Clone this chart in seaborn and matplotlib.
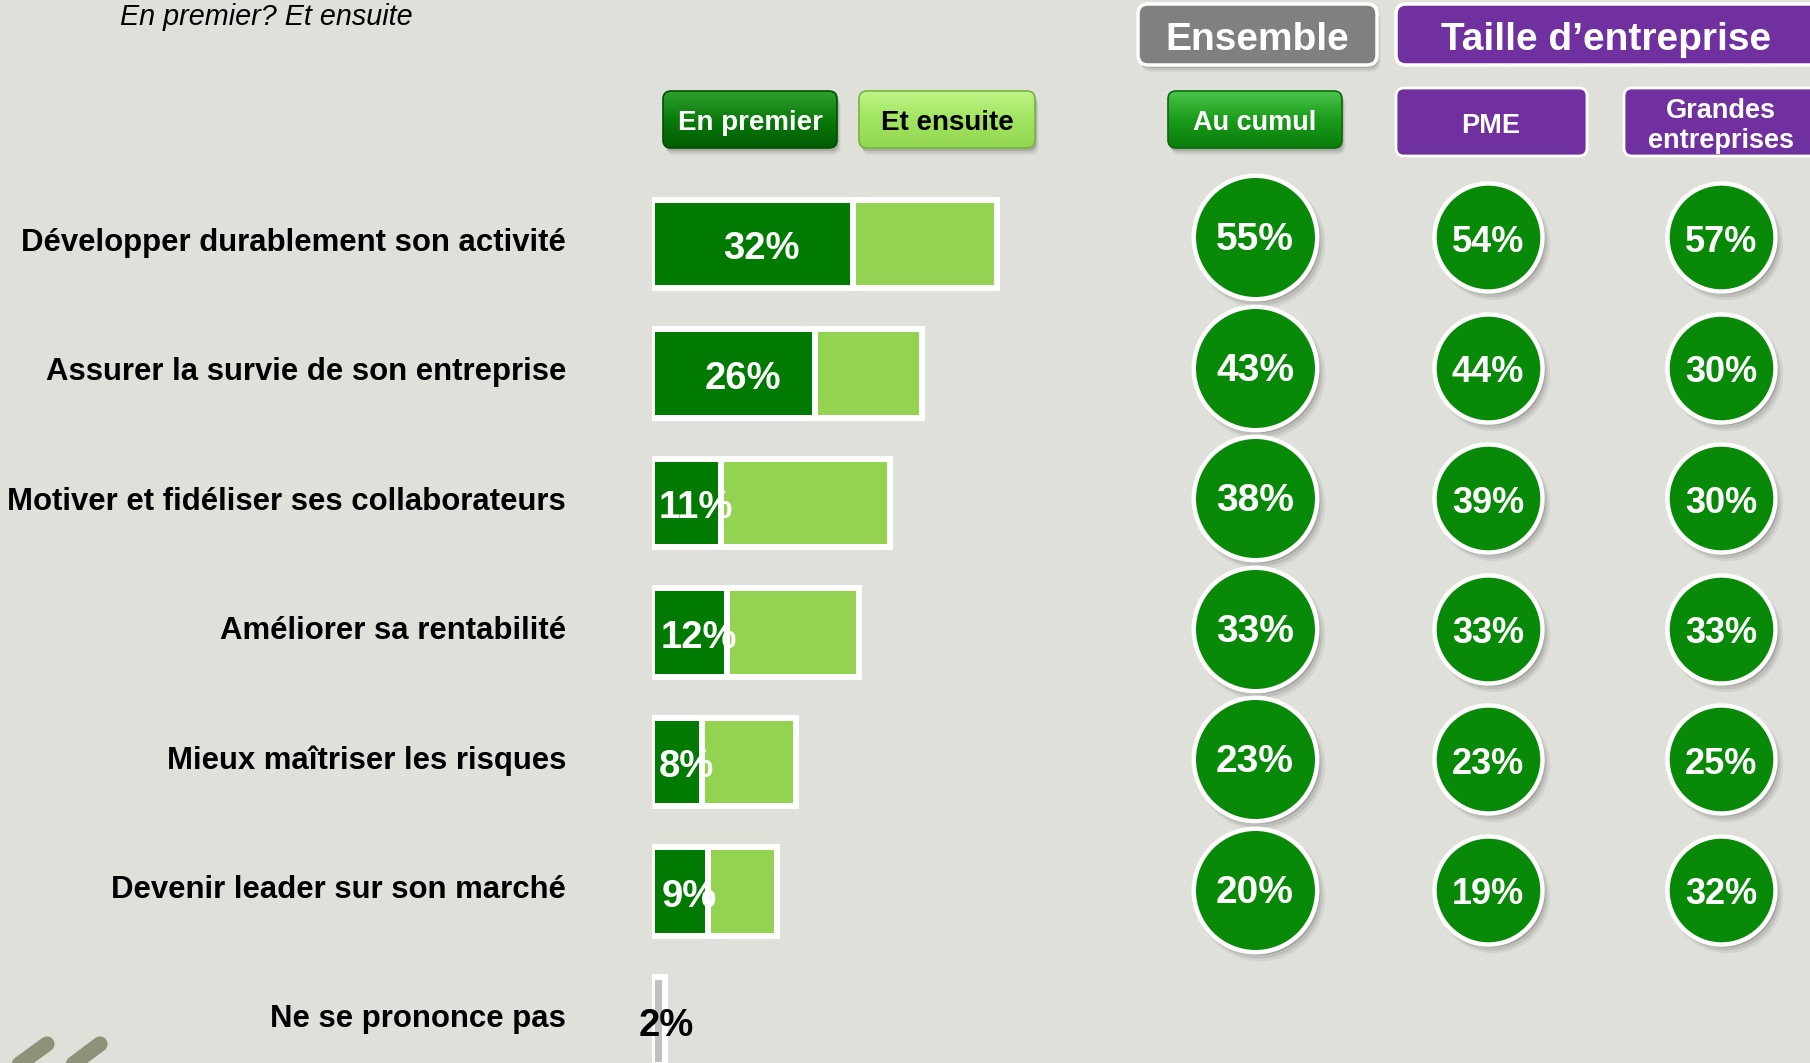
import numpy as np
import pandas as pd
import matplotlib
matplotlib.use("Agg")
import matplotlib.pyplot as plt
import matplotlib.transforms as mtransforms
from matplotlib.patches import FancyBboxPatch
from matplotlib.colors import LinearSegmentedColormap
import seaborn as sns

# ---------------- data ----------------
categories = [
    "Développer durablement son activité",
    "Assurer la survie de son entreprise",
    "Motiver et fidéliser ses collaborateurs",
    "Améliorer sa rentabilité",
    "Mieux maîtriser les risques",
    "Devenir leader sur son marché",
    "Ne se prononce pas",
]
en_premier = [32, 26, 11, 12, 8, 9]
au_cumul = [55, 43, 38, 33, 23, 20, 2]
pme = [54, 44, 39, 33, 23, 19]
grandes_entreprises = [57, 30, 30, 33, 25, 32]
circle_columns = ["Au cumul", "PME", "Grandes entreprises"]

title_text = "En premier? Et ensuite"
legend_labels = ["En premier", "Et ensuite"]
header_labels = ["Ensemble", "Taille d\u2019entreprise"]

# ---------------- style ----------------
BG = "#dfe0da"
DARK = "#007a00"
LIGHT = "#94d351"
GREY_BAR = "#c0c0c0"
CIRCLE = "#088a08"
PURPLE = "#7030a0"

sns.set_theme(style="white")
plt.rcParams["font.family"] = ["Liberation Sans", "DejaVu Sans"]

W, H = 1810, 1063
fig = plt.figure(figsize=(W / 100, H / 100), dpi=100, facecolor=BG)

deco = fig.add_axes([0, 0, 1, 1])
deco.set_xlim(0, W)
deco.set_ylim(H, 0)
deco.axis("off")
deco.set_autoscale_on(False)
deco.set_zorder(0)


def px_axes(left, top, right, bottom):
    return fig.add_axes([left / W, 1 - bottom / H, (right - left) / W, (bottom - top) / H])


def down(ax, dy_px, dx_px=0):
    """data transform shifted by a few pixels (positive dy = lower on screen)"""
    return mtransforms.offset_copy(ax.transData, fig=fig, x=dx_px, y=-dy_px, units="dots")


def rbox(x0, y0, x1, y1, grad=None, fc=None, ec="none", lw=0.0, r=8, shadow=True):
    w, h = x1 - x0, y1 - y0
    style = f"round,pad=0,rounding_size={r}"
    if shadow:
        for off, a in [(7, 0.05), (5, 0.08), (3, 0.12)]:
            deco.add_patch(FancyBboxPatch((x0 + off * 0.5, y0 + off), w, h, boxstyle=style,
                                          fc=(0, 0, 0, a), ec="none", zorder=1))
    p = FancyBboxPatch((x0, y0), w, h, boxstyle=style, fc=fc if fc else "none",
                       ec=ec, lw=lw, zorder=3)
    deco.add_patch(p)
    if grad is not None:
        cmap = LinearSegmentedColormap.from_list("g", grad)
        g = np.linspace(0, 1, 256).reshape(-1, 1)
        im = deco.imshow(g, extent=(x0, x1, y1, y0), cmap=cmap, aspect="auto",
                         zorder=2, interpolation="bilinear")
        im.set_clip_path(p)
    return p


# ---------------- title ----------------
deco.text(120, 25, title_text, fontsize=20.7, style="italic", color="black",
          ha="left", va="baseline")

# ---------------- legend buttons ----------------
rbox(663, 91, 837, 148, grad=["#2f9f2f", "#0b7b0b", "#005c00"], ec="#004f00", lw=1.2)
deco.text(750, 123.5, legend_labels[0], fontsize=20, fontweight="bold", color="white",
          ha="center", va="center", zorder=5)
rbox(859, 91, 1035, 148, grad=["#c0f487", "#a0e460", "#92d651"], ec="#74b43c", lw=1.2)
deco.text(947, 123.5, legend_labels[1], fontsize=20, fontweight="bold", color="black",
          ha="center", va="center", zorder=5)

# ---------------- headers ----------------
rbox(1138, 4, 1377, 65, fc="#808080", ec="white", lw=2.5, r=10)
deco.text(1257, 40, header_labels[0], fontsize=28, fontweight="bold", color="white",
          ha="center", va="center", zorder=5)
rbox(1396, 4, 1822, 65, fc=PURPLE, ec="white", lw=2.5, r=10, shadow=False)
deco.text(1606, 40, header_labels[1], fontsize=28, fontweight="bold", color="white",
          ha="center", va="center", zorder=5)

rbox(1168, 91, 1342, 148, grad=["#4cc44c", "#1a9c1a", "#0a7c0a"], ec="#0a6a0a", lw=1.2)
deco.text(1255, 123.5, circle_columns[0], fontsize=19.5, fontweight="bold", color="white",
          ha="center", va="center", zorder=5)
rbox(1396, 88, 1587, 156, fc=PURPLE, ec="white", lw=2, r=8, shadow=False)
deco.text(1491, 126, circle_columns[1], fontsize=19.5, fontweight="bold", color="white",
          ha="center", va="center", zorder=5)
rbox(1624, 88, 1830, 156, fc=PURPLE, ec="white", lw=2, r=8, shadow=False)
deco.text(1721, 126, circle_columns[2].replace(" ", "\n"), fontsize=19.5, fontweight="bold",
          color="white", ha="center", va="center", linespacing=1.22, zorder=5)

# decorative brush strokes (bottom-left)
for xb, xt in [(14, 47), (68, 100)]:
    deco.plot([xb, xt], [1068, 1044], color="#8e9279", lw=11, solid_capstyle="round", zorder=1)

# ---------------- bar chart ----------------
X0, PXPCT = 652, 6.27
ROW0, ROWH = 244, 129.5
XMAX = 60
bar_ax = px_axes(X0, ROW0 - 0.5 * ROWH, X0 + XMAX * PXPCT, H)
bar_ax.set_facecolor("none")
bar_ax.set_zorder(2)

df_total = pd.DataFrame({"cat": categories, "val": au_cumul})
df_first = pd.DataFrame({"cat": categories[:len(en_premier)], "val": en_premier})

sns.barplot(data=df_total, x="val", y="cat", hue="cat", order=categories,
            palette=[LIGHT] * (len(categories) - 1) + [GREY_BAR], legend=False,
            width=0.683, edgecolor="white", linewidth=4.3, saturation=1,
            errorbar=None, ax=bar_ax)
sns.barplot(data=df_first, x="val", y="cat", order=categories, color=DARK,
            width=0.683, edgecolor="white", linewidth=4.3, saturation=1,
            errorbar=None, ax=bar_ax)

for i, p in enumerate(en_premier):
    bar_ax.text(p / 2 + 1.5, i, f"{p}%", ha="center", va="center", color="white",
                fontsize=27.5, fontweight="bold", zorder=5, transform=down(bar_ax, 5))
nsp_i = len(categories) - 1
bar_ax.text(au_cumul[nsp_i], nsp_i, f"{au_cumul[nsp_i]}%", ha="center", va="center",
            color="black", fontsize=27.5, fontweight="bold", zorder=5,
            transform=down(bar_ax, 5, 2))

# category labels (right-aligned left of the bars)
label_x = -(X0 - 566) / PXPCT
for i, cat in enumerate(categories):
    bar_ax.text(label_x, i, cat, ha="right", va="center", fontsize=22.4,
                fontweight="bold", color="black", transform=down(bar_ax, -1.5))

bar_ax.set_xlim(0, XMAX)
bar_ax.set_ylim((H - ROW0) / ROWH, -0.5)
bar_ax.set_xlabel("")
bar_ax.set_ylabel("")
bar_ax.set_xticks([])
bar_ax.set_yticks([])
for s in bar_ax.spines.values():
    s.set_visible(False)

# ---------------- circles ----------------
CX0, CDX = 1255, 233
CY0, CDY = 237.5, 130.4
circ_ax = px_axes(CX0 - 0.5 * CDX, CY0 - 0.55 * CDY, W, H)
circ_ax.set_facecolor("none")
circ_ax.set_zorder(2)

n = len(pme)
df_c = pd.DataFrame({
    "col": np.repeat(np.arange(3), n),
    "row": np.tile(np.arange(n), 3),
    "val": list(au_cumul[:n]) + list(pme) + list(grandes_entreprises),
})
sizes = {0: 7900, 1: 6050, 2: 6050}

for c in range(3):
    sub = df_c[df_c["col"] == c]
    for (dx, dy, a, extra) in [(5, -6, 0.06, 1.10), (4, -5, 0.09, 1.04), (3, -3, 0.13, 1.0)]:
        tr = mtransforms.offset_copy(circ_ax.transData, fig=fig, x=dx, y=dy, units="dots")
        sns.scatterplot(data=sub, x="col", y="row", s=sizes[c] * extra, color="black",
                        alpha=a, linewidth=0, transform=tr, ax=circ_ax, legend=False)
    sns.scatterplot(data=sub, x="col", y="row", s=sizes[c], color=CIRCLE,
                    edgecolor="white", linewidth=3.2, ax=circ_ax, legend=False)
    for _, r in sub.iterrows():
        circ_ax.text(r["col"], r["row"], f"{int(r['val'])}%", ha="center", va="center",
                     color="white", fontsize=28 if c == 0 else 26, fontweight="bold",
                     zorder=5, transform=down(circ_ax, 3 if c == 0 else 5))

circ_ax.set_xlim(-0.5, (W - CX0) / CDX)
circ_ax.set_ylim((H - CY0) / CDY, -0.55)
circ_ax.axis("off")

fig.savefig("out.png", dpi=100, facecolor=BG)
